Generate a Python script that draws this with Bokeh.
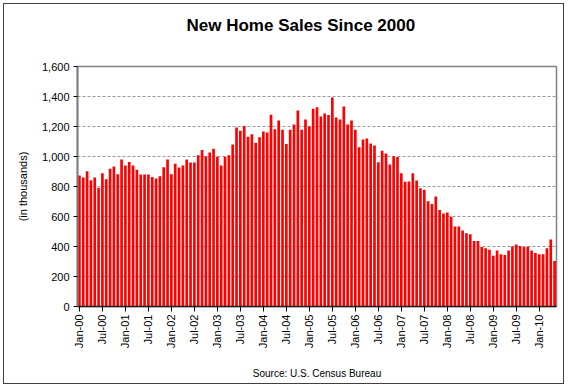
import math
from bokeh.plotting import figure
from bokeh.models import Range1d, FixedTicker, ColumnDataSource, NumeralTickFormatter, Title
from bokeh.embed import file_html
from bokeh.resources import INLINE

# Monthly new home sales (thousands, SAAR), Jan 2000 - May 2010
sales_2000 = [873, 860, 902, 842, 860, 791, 889, 849, 918, 933, 882, 980]
sales_2001 = [940, 964, 940, 911, 880, 880, 880, 864, 853, 869, 929, 980]
sales_2002 = [882, 951, 927, 940, 980, 960, 960, 1009, 1044, 1002, 1027, 1051]
sales_2003 = [998, 940, 998, 1009, 1080, 1193, 1171, 1204, 1131, 1149, 1091, 1129]
sales_2004 = [1167, 1160, 1278, 1182, 1240, 1178, 1084, 1178, 1213, 1307, 1178, 1247]
sales_2005 = [1200, 1318, 1329, 1267, 1287, 1276, 1393, 1260, 1247, 1333, 1213, 1240]
sales_2006 = [1178, 1062, 1113, 1120, 1087, 1073, 962, 1038, 1020, 947, 1002, 996]
sales_2007 = [889, 831, 833, 889, 840, 789, 778, 702, 684, 733, 644, 620]
sales_2008 = [627, 598, 533, 533, 507, 489, 482, 436, 436, 396, 389, 378]
sales_2009 = [338, 373, 349, 344, 373, 400, 413, 404, 396, 400, 373, 356]
sales_2010 = [349, 349, 389, 447, 304]

tick_labels = ["Jan-00", "Jul-00", "Jan-01", "Jul-01", "Jan-02", "Jul-02", "Jan-03",
               "Jul-03", "Jan-04", "Jul-04", "Jan-05", "Jul-05", "Jan-06", "Jul-06",
               "Jan-07", "Jul-07", "Jan-08", "Jul-08", "Jan-09", "Jul-09", "Jan-10"]

sales = (sales_2000 + sales_2001 + sales_2002 + sales_2003 + sales_2004 + sales_2005 +
         sales_2006 + sales_2007 + sales_2008 + sales_2009 + sales_2010)
idx = list(range(len(sales)))
tick_pos = [i * 6 for i in range(len(tick_labels))]

src = ColumnDataSource(dict(x=idx, top=sales))

FONT = "Liberation Sans"

p = figure(width=561, height=381,
           x_range=Range1d(-0.5, len(sales) - 0.5), y_range=Range1d(0, 1600),
           output_backend="svg", toolbar_location=None,
           min_border_left=73, min_border_right=9, min_border_top=62, min_border_bottom=79)
p.styles = {"border": "1px solid #404040", "margin-left": "3px", "margin-top": "3px"}
p.background_fill_color = "white"
p.border_fill_color = "white"
p.outline_line_color = "#808080"
p.outline_line_width = 1.5

p.vbar(x="x", top="top", width=0.7, bottom=0, source=src,
       fill_color="#ff0000", line_color=None)

p.title.text = ""
# spacer between the frame and the title (closest to the frame)
p.add_layout(Title(text=" ", text_font_size="1px", standoff=20), "above")
p.add_layout(Title(text="New Home Sales Since 2000", align="left", offset=109,
                   text_font=FONT, text_font_size="17px", text_font_style="bold",
                   text_color="black", standoff=17), "above")

p.xgrid.visible = False
p.ygrid.grid_line_color = "#999999"
p.ygrid.grid_line_dash = "3 2"
p.ygrid.grid_line_width = 1

p.yaxis.ticker = FixedTicker(ticks=[0, 200, 400, 600, 800, 1000, 1200, 1400, 1600])
p.yaxis.formatter = NumeralTickFormatter(format="0,0")
p.yaxis.axis_line_color = "#808080"
p.yaxis.axis_line_width = 2
p.yaxis.major_tick_in = 0
p.yaxis.major_tick_out = 4
p.yaxis.minor_tick_line_color = None
p.yaxis.major_label_text_font = FONT
p.yaxis.major_label_text_font_size = "11px"
p.yaxis.major_label_text_color = "black"
p.yaxis.major_label_standoff = 4
p.yaxis.axis_label = "(in thousands)"
p.yaxis.axis_label_text_font = FONT
p.yaxis.axis_label_text_font_size = "11px"
p.yaxis.axis_label_text_font_style = "normal"
p.yaxis.axis_label_text_color = "black"
p.yaxis.axis_label_standoff = 10

p.xaxis.ticker = FixedTicker(ticks=tick_pos)
p.xaxis.major_label_overrides = {t: l for t, l in zip(tick_pos, tick_labels)}
p.xaxis.major_label_orientation = math.pi / 2
p.xaxis.axis_line_color = "#202020"
p.xaxis.axis_line_width = 1.5
p.xaxis.major_tick_in = 0
p.xaxis.major_tick_out = 5
p.xaxis.minor_tick_line_color = None
p.xaxis.major_label_text_font = FONT
p.xaxis.major_label_text_font_size = "11px"
p.xaxis.major_label_text_color = "black"
p.xaxis.major_label_standoff = 3
p.xaxis.axis_label = "Source: U.S. Census Bureau"
p.xaxis.axis_label_text_font = FONT
p.xaxis.axis_label_text_font_size = "10px"
p.xaxis.axis_label_text_font_style = "normal"
p.xaxis.axis_label_text_color = "black"
p.xaxis.axis_label_standoff = 17

open("out.html", "w").write(file_html(p, INLINE))
